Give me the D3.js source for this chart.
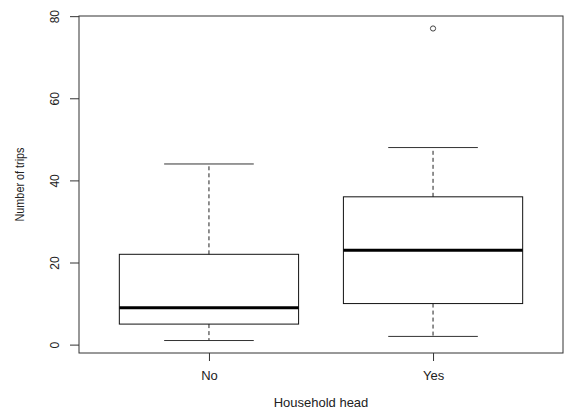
<!DOCTYPE html>
<html lang="en">
<head>
<meta charset="UTF-8">
<title>Number of trips by household head</title>
<script src="https://d3js.org/d3.v7.min.js"></script>
<style>
  body { margin: 0; background: #fff; }
  text { font-family: "Liberation Sans", Arial, sans-serif; fill: #222; }
</style>
</head>
<body>
<svg id="chart" width="571" height="410"></svg>
<script>
// box statistics
const groups = ["No", "Yes"];
const lowerWhisker = [1, 2];
const q1 = [5, 10];
const median = [9, 23];
const q3 = [22, 36];
const upperWhisker = [44, 48];
const outliers = [[], [77]];
const yTicks = [0, 20, 40, 60, 80];

const svg = d3.select("#chart");
const plot = { left: 79, right: 563, top: 16, bottom: 353 };

// R style ranges: 4% padding on both axes
const x = d3.scaleLinear().domain([0.42, 2.58]).range([plot.left, plot.right]);
const y = d3.scaleLinear().domain([-2.04, 80.04]).range([plot.bottom, plot.top]);

const boxHalf = 0.4, capHalf = 0.2;

const data = groups.map((g, i) => ({
  name: g, pos: i + 1,
  lo: lowerWhisker[i], q1: q1[i], med: median[i], q3: q3[i], hi: upperWhisker[i],
  out: outliers[i]
}));

const g = svg.selectAll("g.box").data(data).enter().append("g").attr("class", "box");

// dashed whiskers
g.append("line")
  .attr("x1", d => x(d.pos)).attr("x2", d => x(d.pos))
  .attr("y1", d => y(d.q3)).attr("y2", d => y(d.hi))
  .attr("stroke", "#222").attr("stroke-dasharray", "4,3");
g.append("line")
  .attr("x1", d => x(d.pos)).attr("x2", d => x(d.pos))
  .attr("y1", d => y(d.q1)).attr("y2", d => y(d.lo))
  .attr("stroke", "#222").attr("stroke-dasharray", "4,3");

// caps
["hi", "lo"].forEach(k => {
  g.append("line")
    .attr("x1", d => x(d.pos - capHalf)).attr("x2", d => x(d.pos + capHalf))
    .attr("y1", d => y(d[k])).attr("y2", d => y(d[k]))
    .attr("stroke", "#333");
});

// boxes
g.append("rect")
  .attr("x", d => x(d.pos - boxHalf))
  .attr("width", d => x(d.pos + boxHalf) - x(d.pos - boxHalf))
  .attr("y", d => y(d.q3))
  .attr("height", d => y(d.q1) - y(d.q3))
  .attr("fill", "none").attr("stroke", "#111");

// medians
g.append("line")
  .attr("x1", d => x(d.pos - boxHalf)).attr("x2", d => x(d.pos + boxHalf))
  .attr("y1", d => y(d.med)).attr("y2", d => y(d.med))
  .attr("stroke", "#000").attr("stroke-width", 3);

// outliers
g.selectAll("circle").data(d => d.out.map(v => ({ pos: d.pos, v })))
  .enter().append("circle")
  .attr("cx", d => x(d.pos)).attr("cy", d => y(d.v)).attr("r", 2.6)
  .attr("fill", "none").attr("stroke", "#444");

// frame
svg.append("rect")
  .attr("x", plot.left).attr("y", plot.top)
  .attr("width", plot.right - plot.left).attr("height", plot.bottom - plot.top)
  .attr("fill", "none").attr("stroke", "#333");

// y axis
const yAxis = svg.append("g")
  .attr("transform", `translate(${plot.left},0)`)
  .call(d3.axisLeft(y).tickValues(yTicks).tickSize(9).tickFormat(d3.format("d")));
yAxis.select(".domain").remove();
yAxis.selectAll(".tick line").attr("stroke", "#333");
yAxis.selectAll(".tick text")
  .attr("x", null).attr("dy", null)
  .attr("transform", "translate(-24,0) rotate(-90)")
  .attr("text-anchor", "middle").attr("dominant-baseline", "central")
  .style("font-size", "12px").style("font-family", "Liberation Sans, Arial, sans-serif")
  .attr("fill", "#222");

// x axis
const xAxis = svg.append("g")
  .attr("transform", `translate(0,${plot.bottom})`)
  .call(d3.axisBottom(x).tickValues(data.map(d => d.pos)).tickSize(8)
    .tickFormat((d, i) => groups[i]));
xAxis.select(".domain").remove();
xAxis.selectAll(".tick line").attr("stroke", "#333");
xAxis.selectAll(".tick text")
  .attr("y", 22).attr("dy", "0.35em")
  .style("font-size", "13px").style("font-family", "Liberation Sans, Arial, sans-serif")
  .attr("fill", "#222");

// axis titles
svg.append("text")
  .attr("x", (plot.left + plot.right) / 2).attr("y", 402)
  .attr("text-anchor", "middle").attr("dominant-baseline", "central")
  .style("font-size", "13px")
  .text("Household head");

svg.append("text")
  .attr("transform", `translate(20,${(plot.top + plot.bottom) / 2}) rotate(-90)`)
  .attr("text-anchor", "middle").attr("dominant-baseline", "central")
  .attr("textLength", 74).attr("lengthAdjust", "spacingAndGlyphs")
  .style("font-size", "12px")
  .text("Number of trips");
</script>
</body>
</html>
